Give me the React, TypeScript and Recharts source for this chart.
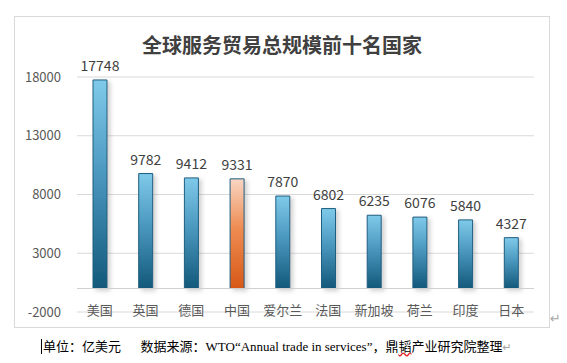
import { Bar, BarChart, CartesianGrid, Cell, LabelList, ReferenceLine, XAxis, YAxis } from "recharts";

const countries = ["美国", "英国", "德国", "中国", "爱尔兰", "法国", "新加坡", "荷兰", "印度", "日本"];
const totals = [17748, 9782, 9412, 9331, 7870, 6802, 6235, 6076, 5840, 4327];
const yTicks = [-2000, 3000, 8000, 13000, 18000];
const highlight = "中国";

const data = countries.map((name, i) => ({ name, value: totals[i] }));

const FONT = "'Noto Sans CJK SC', 'Noto Sans', sans-serif";
const MARK = "#a6a6a6";

function CategoryTick(props: { x?: number; y?: number; payload?: { value: string } }) {
  const { x = 0, y = 0, payload } = props;
  return (
    <text x={x} y={y - 3} textAnchor="middle" dominantBaseline="central" fontSize={13} fill="#595959" fontFamily={FONT}>
      {payload?.value}
    </text>
  );
}

export default function App() {
  return (
    <div style={{ position: "absolute", left: 0, top: 0, width: 567, height: 363, background: "#fff" }}>
      <div
        style={{
          position: "absolute",
          left: 14,
          top: 16,
          width: 536,
          height: 312,
          boxSizing: "border-box",
          border: "1px solid #d9d9d9",
        }}
      />
      <div
        style={{
          position: "absolute",
          left: 14,
          top: 32,
          width: 536,
          textAlign: "center",
          fontFamily: FONT,
          fontWeight: 700,
          fontSize: 20,
          color: "#404040",
          lineHeight: "26px",
        }}
      >
        全球服务贸易总规模前十名国家
      </div>
      <div style={{ position: "absolute", left: 14, top: 16 }}>
        <BarChart width={536} height={312} data={data} margin={{ top: 61, right: 16, left: 0, bottom: 0 }}>
          <defs>
            <linearGradient id="blueFill" x1="0" y1="0" x2="0" y2="1">
              <stop offset="0%" stopColor="#7fcaea" />
              <stop offset="45%" stopColor="#4b98bf" />
              <stop offset="100%" stopColor="#12587a" />
            </linearGradient>
            <linearGradient id="orangeFill" x1="0" y1="0" x2="0" y2="1">
              <stop offset="0%" stopColor="#f9d6c4" />
              <stop offset="45%" stopColor="#ee8c52" />
              <stop offset="100%" stopColor="#d75816" />
            </linearGradient>
            <filter id="barShadow" x="-50%" y="-10%" width="200%" height="130%">
              <feDropShadow dx="3" dy="2" stdDeviation="2" floodColor="#7f7f7f" floodOpacity="0.35" />
            </filter>
          </defs>
          <CartesianGrid vertical={false} stroke="#d9d9d9" />
          <XAxis
            dataKey="name"
            axisLine={false}
            tickLine={false}
            tickSize={0}
            tickMargin={0}
            height={16}
            interval={0}
            tick={<CategoryTick />}
          />
          <YAxis
            domain={[-2000, 18000]}
            ticks={yTicks}
            interval={0}
            axisLine={false}
            tickLine={false}
            tickSize={6}
            tickMargin={10}
            width={63}
            tick={{ fontSize: 13, fill: "#595959", fontFamily: FONT }}
          />
          <ReferenceLine y={0} stroke="#d0d0d0" />
          <Bar dataKey="value" barSize={14} stroke="#1d5e80" strokeWidth={1} filter="url(#barShadow)" isAnimationActive={false}>
            {data.map((d) => (
              <Cell key={d.name} fill={d.name === highlight ? "url(#orangeFill)" : "url(#blueFill)"} />
            ))}
            <LabelList dataKey="value" position="top" offset={9} fontSize={14} fill="#404040" fontFamily={FONT} />
          </Bar>
        </BarChart>
      </div>
      <div style={{ position: "absolute", left: 550, top: 311, fontSize: 13, color: MARK, fontFamily: "'DejaVu Sans'" }}>↵</div>
      <div
        style={{
          position: "absolute",
          left: 41,
          top: 338,
          fontSize: 13,
          lineHeight: "18px",
          whiteSpace: "pre",
          color: "#000",
          fontFamily: "'Liberation Serif', 'Noto Sans CJK SC', serif",
        }}
      >
        <span style={{ borderLeft: "1px solid #000", paddingLeft: 1 }}>单位：亿美元</span>
        {"      数据来源：WTO“Annual trade in services”，鼎"}
        <span style={{ textDecoration: "underline wavy #e02020" }}>韬</span>
        {"产业研究院整理"}
        <span style={{ color: MARK, fontFamily: "'DejaVu Sans'", fontSize: 11 }}>↵</span>
      </div>
    </div>
  );
}
